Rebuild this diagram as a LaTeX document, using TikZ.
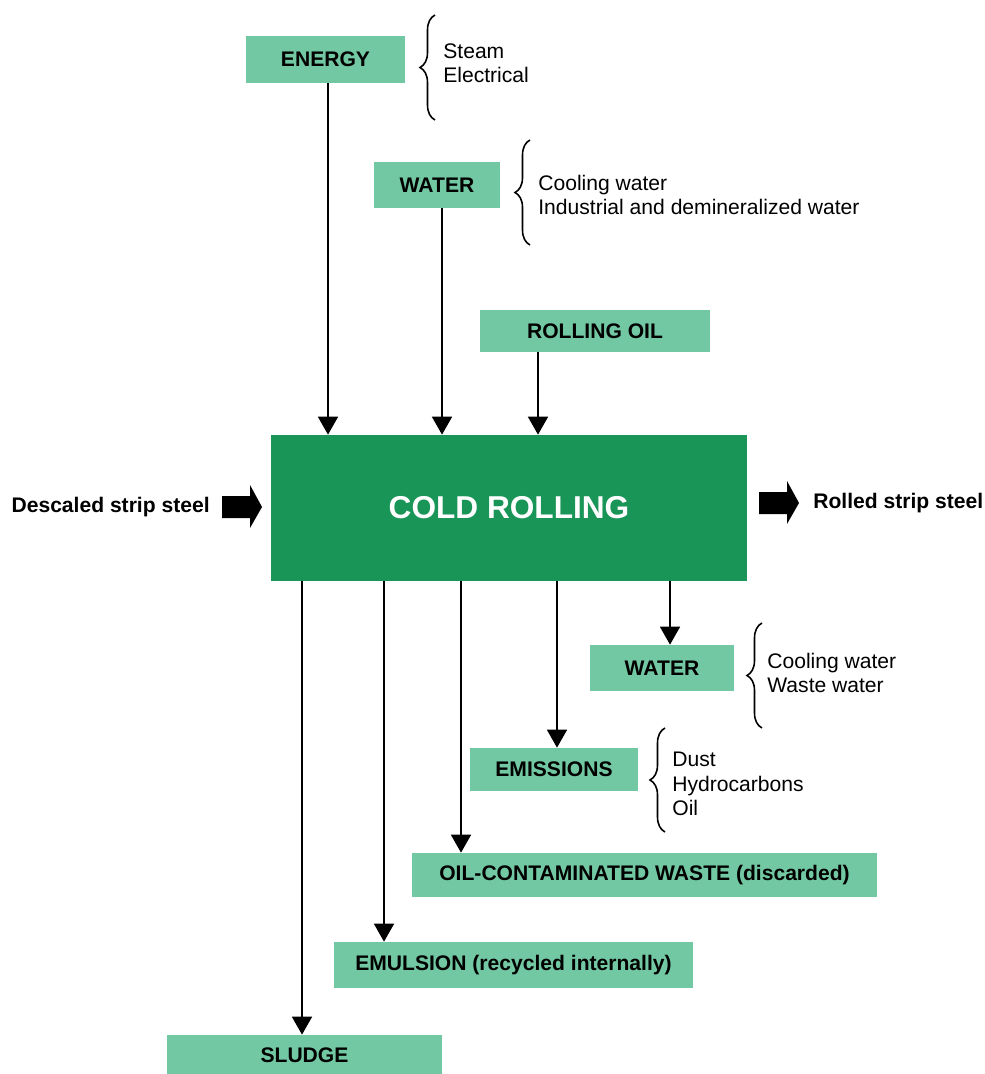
\documentclass[tikz,border=0pt]{standalone}
\usepackage{fontspec}
\setmainfont{Liberation Sans}
\usetikzlibrary{arrows.meta,decorations.pathreplacing}
\definecolor{boxlight}{HTML}{72C8A2}
\definecolor{boxdark}{HTML}{199557}
\begin{document}
\begin{tikzpicture}[x=0.02cm,y=-0.02cm,
  box/.style={rectangle,fill=boxlight,inner sep=0pt,font=\fontsize{12}{14}\selectfont\bfseries},
  arr/.style={line width=1pt,-{Triangle[width=0.4cm,length=0.36cm]}},
  brc/.style={line width=0.9pt,decorate,decoration={brace,amplitude=0.3cm,aspect=0.5}},
  note/.style={anchor=north west,align=left,inner sep=0pt,font=\fontsize{12}{13.8}\selectfont},
  side/.style={inner sep=0pt,font=\fontsize{12}{14}\selectfont\bfseries},
  blockarrow/.style={fill=black}]
\useasboundingbox (0,0) rectangle (984,1074);

% inputs
\node[box,minimum width=3.18cm,minimum height=0.94cm] (energy) at (325.5,59.5) {ENERGY};
\node[box,minimum width=2.52cm,minimum height=0.92cm] (waterin) at (437,185) {WATER};
\node[box,minimum width=4.6cm,minimum height=0.84cm] (oil) at (595,331) {ROLLING OIL};

% central process
\node[rectangle,fill=boxdark,inner sep=0pt,minimum width=9.52cm,minimum height=2.92cm,
  text=white,font=\fontsize{18}{20}\selectfont\bfseries] (cold) at (509,508) {\raisebox{-2pt}{COLD ROLLING}};

% outputs
\node[box,minimum width=2.88cm,minimum height=0.92cm] (waterout) at (662,668) {WATER};
\node[box,minimum width=3.36cm,minimum height=0.86cm] (emis) at (554,769.5) {EMISSIONS};
\node[box,minimum width=9.3cm,minimum height=0.88cm] (waste) at (644.5,875) {OIL-CONTAMINATED WASTE (discarded)};
\node[box,minimum width=7.18cm,minimum height=0.92cm] (emul) at (513.5,965) {EMULSION (recycled internally)};
\node[box,minimum width=5.5cm,minimum height=0.8cm] (sludge) at (304.5,1055) {SLUDGE};

% braces and their notes
\draw[brc] (435,120) -- (435,15);
\node[note] (n1) at (443,43) {Steam\\Electrical};
\draw[brc] (530,245) -- (530,140);
\node[note] (n2) at (538,175) {Cooling water\\Industrial and demineralized water};
\draw[brc] (762,728) -- (762,623);
\node[note] (n3) at (767,653) {Cooling water\\Waste water};
\draw[brc] (665,832) -- (665,728);
\node[note] (n4) at (672,752) {Dust\\Hydrocarbons\\Oil};

% connector x positions
\coordinate (xa) at (328,0);
\coordinate (xb) at (442,0);
\coordinate (xc) at (538,0);
\coordinate (xd) at (302,0);
\coordinate (xe) at (384,0);
\coordinate (xf) at (461,0);
\coordinate (xg) at (557,0);
\coordinate (xh) at (670,0);

% input connectors
\draw[arr] (energy.south -| xa) -- (cold.north -| xa);
\draw[arr] (waterin.south -| xb) -- (cold.north -| xb);
\draw[arr] (oil.south -| xc) -- (cold.north -| xc);

% output connectors
\draw[arr] (cold.south -| xd) -- (sludge.north -| xd);
\draw[arr] (cold.south -| xe) -- (emul.north -| xe);
\draw[arr] (cold.south -| xf) -- (waste.north -| xf);
\draw[arr] (cold.south -| xg) -- (emis.north -| xg);
\draw[arr] (cold.south -| xh) -- (waterout.north -| xh);

% strip steel in and out
\node[side,anchor=east] (steelin) at (210,507) {Descaled strip steel};
\fill[blockarrow] (222,496) -- (250,496) -- (250,485) -- (262,507) -- (250,528) -- (250,518) -- (222,518) -- cycle;
\fill[blockarrow] (759,492) -- (787,492) -- (787,481) -- (799,503) -- (787,524) -- (787,514) -- (759,514) -- cycle;
\node[side,anchor=west] (steelout) at (813,503) {Rolled strip steel};
\end{tikzpicture}
\end{document}
